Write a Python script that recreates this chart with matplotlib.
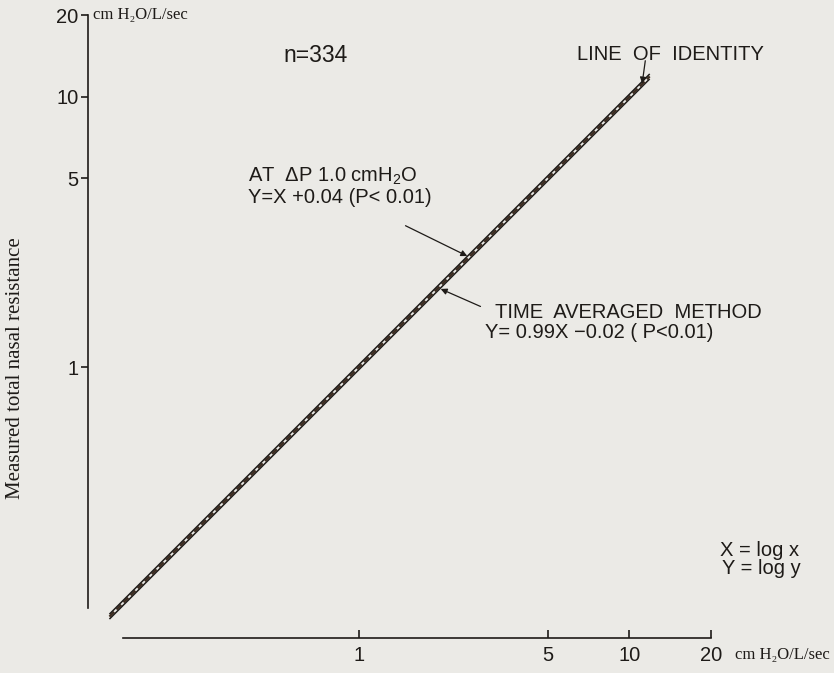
import matplotlib
matplotlib.use('Agg')
import matplotlib.pyplot as plt
from matplotlib.ticker import NullLocator

# values (log-log axes, cm H2O/L/sec)
fit_x = [0.12, 11.9]
identity_y = [0.12, 11.9]
delta_p_y = [0.1225, 12.15]      # Y = X + 0.04 at dP 1.0 cmH2O
time_avg_y = [0.1175, 11.65]     # Y = 0.99X - 0.02
tick_values = [1, 5, 10, 20]
tick_labels = ['1', '5', '10', '20']
n_patients = 334

BG = '#ebeae6'
INK = '#1e1b18'
SERIF = ['Liberation Serif', 'DejaVu Serif']

plt.rcParams['font.family'] = ['Liberation Sans', 'DejaVu Sans']
plt.rcParams['mathtext.fontset'] = 'custom'
plt.rcParams['mathtext.rm'] = 'Liberation Sans'
plt.rcParams['mathtext.it'] = 'Liberation Sans'

W, H = 834, 673


def px(x, y):
    # reference pixel position -> figure fraction
    return x / W, 1 - y / H


fig = plt.figure(figsize=(W / 100, H / 100), dpi=100, facecolor=BG)
ax = fig.add_axes([88 / W, 35 / H, 746 / W, 638 / H])
ax.patch.set_visible(False)
ax.set_xscale('log')
ax.set_yscale('log')
ax.set_xlim(0.1, 10 ** (476 / 271))
ax.set_ylim(0.1, 10 ** (368 / 271))

for side in ['top', 'right']:
    ax.spines[side].set_visible(False)
ax.spines['left'].set_bounds(0.129, 20)
ax.spines['bottom'].set_bounds(0.135, 20)
for side in ['left', 'bottom']:
    ax.spines[side].set_color(INK)
    ax.spines[side].set_linewidth(1.2)

ax.xaxis.set_minor_locator(NullLocator())
ax.yaxis.set_minor_locator(NullLocator())
ax.set_xticks(tick_values, tick_labels)
ax.set_yticks(tick_values, tick_labels)
ax.tick_params(axis='y', direction='out', length=5, width=1.2, pad=2,
               labelsize=14.5, colors=INK)
ax.tick_params(axis='x', direction='in', length=6, width=1.2, pad=6,
               labelsize=14.5, colors=INK)

# the three regression lines, almost on top of each other
ax.plot(fit_x, time_avg_y, color=INK, lw=1.1, solid_capstyle='butt')
ax.plot(fit_x, identity_y, color='#3b2a1e', lw=1.6, ls=(0, (3, 1.5)))
ax.plot(fit_x, delta_p_y, color=INK, lw=1.1, solid_capstyle='butt')

arrow = dict(arrowstyle='-|>', lw=0.9, color=INK, mutation_scale=9,
             shrinkA=0, shrinkB=0)
ax.annotate('', xy=(2.52, 2.58), xytext=(1.49, 3.34), arrowprops=arrow)
ax.annotate('', xy=(2.01, 1.95), xytext=(2.82, 1.68), arrowprops=arrow)
ax.annotate('', xy=(11.16, 11.2), xytext=(11.46, 13.6), arrowprops=arrow)

txt = dict(color=INK, fontsize=14.5, ha='left', va='center')
fig.text(*px(283, 55), 'n=%d' % n_patients, **dict(txt, fontsize=16.5))
fig.text(*px(577, 54), 'LINE  OF  IDENTITY', **txt)
fig.text(*px(248, 176), r'AT  ΔP 1.0 cmH$_2$O', **txt)
fig.text(*px(248, 197), 'Y=X +0.04 (P< 0.01)', **txt)
fig.text(*px(495, 312), 'TIME  AVERAGED  METHOD', **txt)
fig.text(*px(485, 333), 'Y= 0.99X −0.02 ( P<0.01)', **txt)
fig.text(*px(720, 550), 'X = log x', **txt)
fig.text(*px(722, 569), 'Y = log y', **txt)

unit = 'cm H₂O/L/sec'
fig.text(*px(93, 15), unit, family=SERIF, fontsize=12, color=INK,
         ha='left', va='center')
fig.text(*px(735, 655), unit, family=SERIF, fontsize=12, color=INK,
         ha='left', va='center')
fig.text(*px(16, 368), 'Measured total nasal resistance', family=SERIF,
         fontsize=15, color=INK, rotation=90, ha='center', va='center')

fig.savefig('out.png', dpi=100, facecolor=BG)
